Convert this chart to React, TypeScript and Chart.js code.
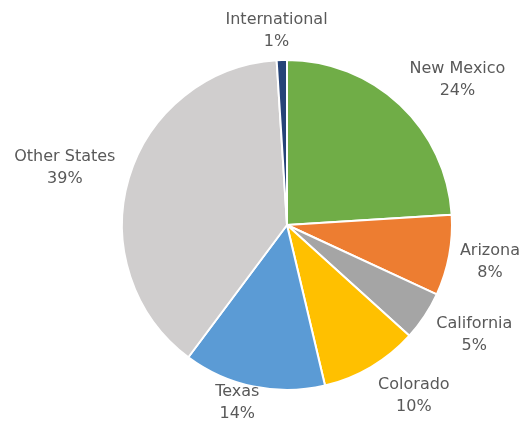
import React, { useEffect, useRef } from "react";
import { Chart, registerables } from "chart.js";

Chart.register(...registerables);

const categories = ["New Mexico", "Arizona", "California", "Colorado", "Texas", "Other States", "International"];
const shares = [24.0, 7.9, 4.8, 9.6, 13.9, 38.8, 1.0];
const colors = ["#70AD47", "#ED7D31", "#A5A5A5", "#FFC000", "#5B9BD5", "#D0CECE", "#264478"];

const FONT = "16px 'DejaVu Sans', sans-serif";
const TEXT_COLOR = "#595959";
const LINE_H = 22;
const GAP = 14;

const outsideLabels = {
  id: "outsideLabels",
  afterDatasetsDraw(chart: any) {
    const ctx = chart.ctx;
    const meta = chart.getDatasetMeta(0);
    const data = chart.data.datasets[0].data as number[];
    const total = data.reduce((a, b) => a + b, 0);
    const W = chart.width;
    const H = chart.height;
    ctx.save();
    ctx.font = FONT;
    ctx.fillStyle = TEXT_COLOR;
    ctx.textAlign = "center";
    ctx.textBaseline = "middle";
    meta.data.forEach((arc: any, i: number) => {
      const p = arc.getProps(["x", "y", "startAngle", "endAngle", "outerRadius"], true);
      const mid = (p.startAngle + p.endAngle) / 2;
      const ux = Math.cos(mid);
      const uy = Math.sin(mid);
      const name = chart.data.labels[i] as string;
      const pct = Math.round((data[i] / total) * 100) + "%";
      const w = Math.max(ctx.measureText(name).width, ctx.measureText(pct).width);
      const a = w / 2;
      const b = LINE_H;
      const R = p.outerRadius + GAP;
      let cx = p.x + ux * R + a * Math.max(-1, Math.min(1, ux * 3));
      let cy = p.y + uy * R + b * uy * 0.9;
      cx = Math.max(a + 4, Math.min(W - a - 4, cx));
      cy = Math.max(LINE_H + 9, Math.min(H - 19, cy));
      ctx.fillText(name, cx, cy - LINE_H / 2);
      ctx.fillText(pct, cx, cy + LINE_H / 2);
    });
    ctx.restore();
  },
};

export default function App() {
  const ref = useRef<HTMLCanvasElement>(null);
  useEffect(() => {
    document.body.style.margin = "0";
    const chart = new Chart(ref.current!, {
      type: "pie",
      data: {
        labels: categories,
        datasets: [
          {
            data: shares,
            backgroundColor: colors,
            borderColor: "#FFFFFF",
            borderWidth: 2,
          },
        ],
      },
      options: {
        responsive: false,
        animation: false,
        layout: { padding: { top: 59, bottom: 31, left: 121, right: 71 } },
        plugins: { legend: { display: false }, tooltip: { enabled: false } },
      },
      plugins: [outsideLabels],
    });
    return () => chart.destroy();
  }, []);
  return (
    <div style={{ width: 524, height: 422, background: "#fff" }}>
      <canvas ref={ref} width={524} height={422} />
    </div>
  );
}
